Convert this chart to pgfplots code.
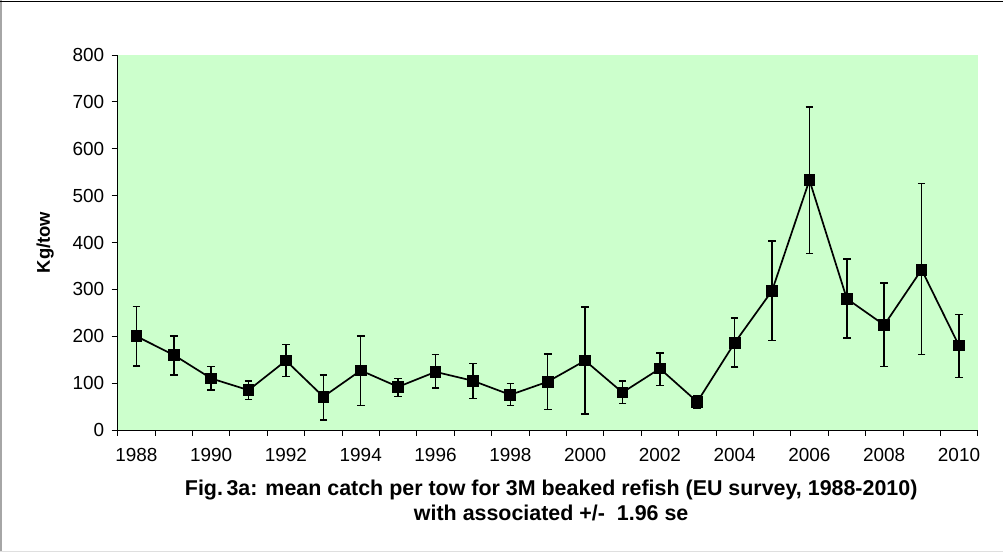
\documentclass[border=0pt]{standalone}
\usepackage{fontspec}
\setmainfont{Liberation Sans}
\usepackage{pgfplots}
\pgfplotsset{compat=1.18}
\usepackage{pgfplotstable}
\definecolor{plotbg}{RGB}{204,255,204}

% mean catch per tow (kg) with +/- 1.96 se
\pgfplotstableread{
year mean ep em
1988 200  63  63
1989 160  41  43
1990 110  25  25
1991  85  20  20
1992 148  34  34
1993  71  46  50
1994 127  74  75
1995  92  18  21
1996 124  37  34
1997 105  37  38
1998  75  24  23
1999 103  59  59
2000 148 114 114
2001  80  24  24
2002 131  33  36
2003  60  14  14
2004 186  53  52
2005 297 106 106
2006 533 156 156
2007 280  85  84
2008 224  90  89
2009 342 184 181
2010 180  66  68
}\catch

\begin{document}
\begin{tikzpicture}
\path[use as bounding box] (0,0) rectangle (1003bp,552bp);
\draw[gray!70, line width=2bp] (1bp,0) -- (1bp,552bp);
\draw[black, line width=0.8bp] (0,550.5bp) -- (1003bp,550.5bp);
\draw[gray!25, line width=0.8bp] (0,0.4bp) -- (1003bp,0.4bp);
\begin{axis}[
  at={(117.7bp,122bp)}, anchor=south west,
  scale only axis, width=860bp, height=375bp,
  xmin=1987.5, xmax=2010.5, ymin=0, ymax=800,
  axis background/.style={fill=plotbg},
  axis x line*=bottom, axis y line*=left,
  axis line style={black, line width=0.9bp},
  xtick={1987.5,1988.5,...,2010.5}, xticklabels={},
  extra x ticks={1988,1990,1992,1994,1996,1998,2000,2002,2004,2006,2008,2010},
  extra x tick labels={1988,1990,1992,1994,1996,1998,2000,2002,2004,2006,2008,2010},
  extra x tick style={major tick length=0pt, xticklabel style={yshift=-14.7bp}},
  ytick={0,100,...,800},
  yticklabel style={xshift=-4bp},
  tick align=outside, major tick length=6bp,
  tick style={black, line width=0.8bp},
  /pgf/number format/assume math mode=true,
  /pgf/number format/set thousands separator={},
  tick label style={font=\fontsize{19}{21}\selectfont},
  ylabel={Kg/tow},
  every axis y label/.style={at={(axis description cs:-0.0845,0.5)}, anchor=center, rotate=90,
    font=\bfseries\fontsize{18.5}{20}\selectfont},
  xlabel={Fig.\,3a: mean catch per tow for 3M beaked refish (EU survey, 1988-2010)\\with associated +/-\ \ 1.96 se},
  every axis x label/.style={at={(axis description cs:0.5,0)}, anchor=north,
    xshift=3.5bp, yshift=-46.3bp,
    align=center, font=\bfseries\fontsize{21.5}{25.5}\selectfont},
]
\addplot[black, line width=1.7bp, mark=square*, mark size=5bp,
  error bars/.cd, y dir=both, y explicit,
  error bar style={line width=1.5bp, black},
  error mark options={rotate=90, mark size=3.8bp, line width=1.5bp, black}]
  table[x=year, y=mean, y error plus=ep, y error minus=em] {\catch};
\end{axis}
\end{tikzpicture}
\end{document}
